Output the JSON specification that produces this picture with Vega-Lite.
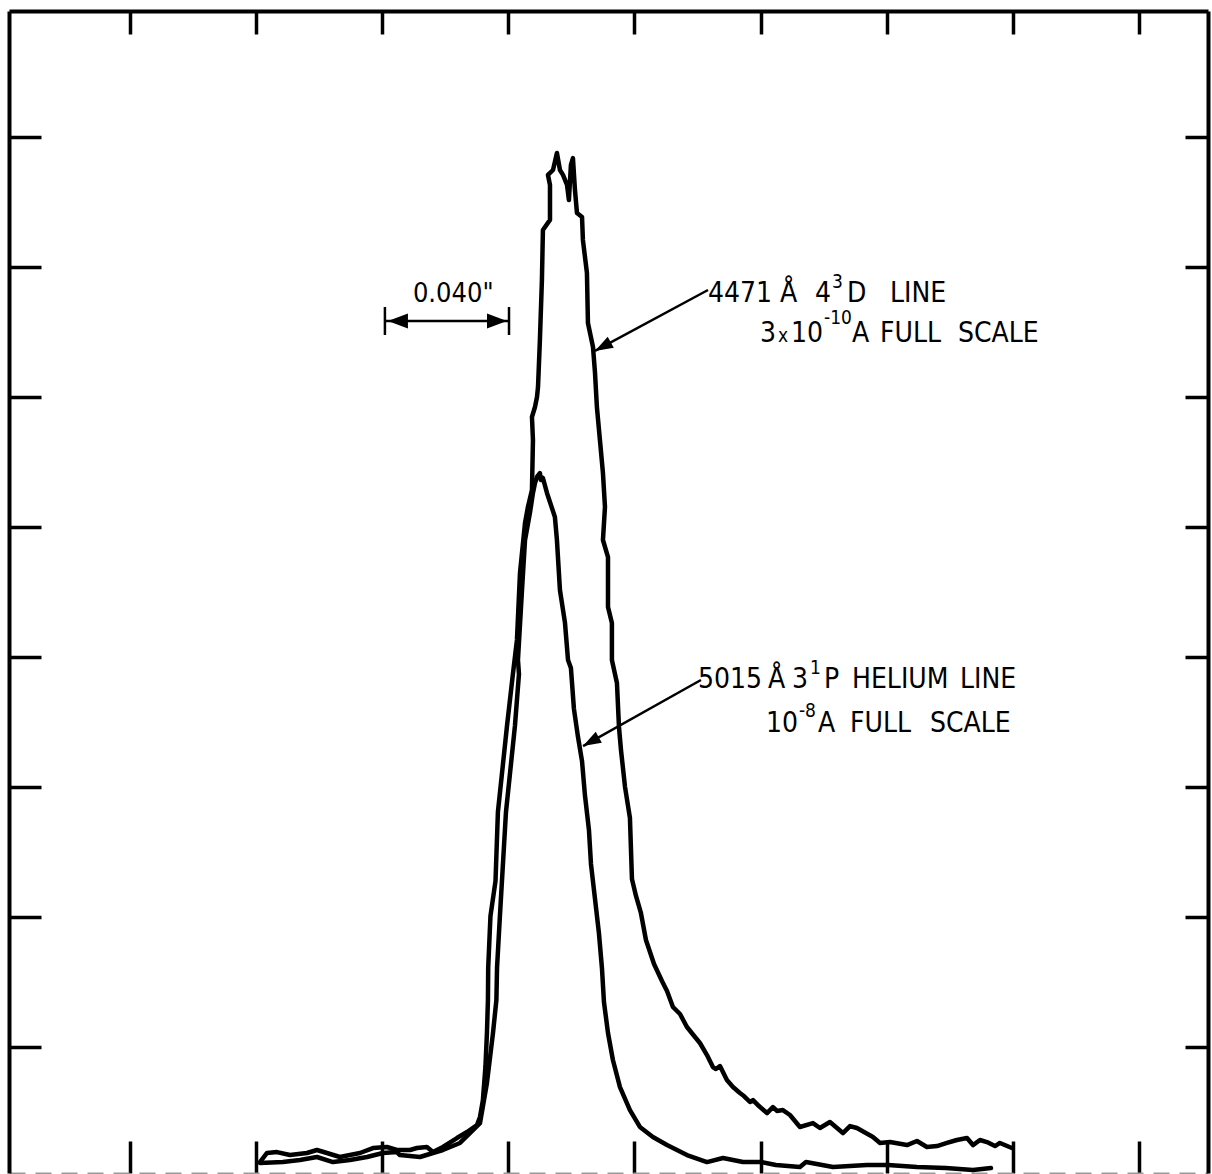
{
  "$schema": "https://vega.github.io/schema/vega-lite/v6.json",
  "width": 1199,
  "height": 1162,
  "autosize": {"type": "none"},
  "padding": {"left": 9, "top": 11, "right": 4, "bottom": 1},
  "background": "white",
  "config": {
    "view": {"stroke": null},
    "axis": {"labels": false, "title": null, "grid": false, "tickColor": "black", "tickWidth": 3.5, "domainColor": "black", "domainWidth": 4}
  },
  "resolve": {"axis": {"x": "independent", "y": "independent"}},
  "layer": [
    {
      "data": {"values": [
        {"s":"A","i":1,"x":2.030,"y":0.115},{"s":"A","i":2,"x":2.086,"y":0.185},{"s":"A","i":3,"x":2.165,"y":0.192},{"s":"A","i":4,"x":2.268,"y":0.169},{"s":"A","i":5,"x":2.403,"y":0.185},{"s":"A","i":6,"x":2.482,"y":0.208},{"s":"A","i":7,"x":2.561,"y":0.185},{"s":"A","i":8,"x":2.664,"y":0.154},{"s":"A","i":9,"x":2.823,"y":0.185},{"s":"A","i":10,"x":2.926,"y":0.223},
        {"s":"A","i":11,"x":3.037,"y":0.231},{"s":"A","i":12,"x":3.116,"y":0.208},{"s":"A","i":13,"x":3.220,"y":0.208},{"s":"A","i":14,"x":3.275,"y":0.223},{"s":"A","i":15,"x":3.354,"y":0.231},{"s":"A","i":16,"x":3.402,"y":0.192},{"s":"A","i":17,"x":3.481,"y":0.231},{"s":"A","i":18,"x":3.592,"y":0.300},{"s":"A","i":19,"x":3.672,"y":0.346},{"s":"A","i":20,"x":3.751,"y":0.400},
        {"s":"A","i":21,"x":3.775,"y":0.462},{"s":"A","i":22,"x":3.798,"y":0.592},{"s":"A","i":23,"x":3.818,"y":0.846},{"s":"A","i":24,"x":3.830,"y":1.108},{"s":"A","i":25,"x":3.838,"y":1.362},{"s":"A","i":26,"x":3.840,"y":1.608},{"s":"A","i":27,"x":3.858,"y":2.008},{"s":"A","i":28,"x":3.898,"y":2.277},{"s":"A","i":29,"x":3.917,"y":2.808},{"s":"A","i":30,"x":3.989,"y":3.469},
        {"s":"A","i":31,"x":4.036,"y":3.869},{"s":"A","i":32,"x":4.068,"y":4.131},{"s":"A","i":33,"x":4.092,"y":4.646},{"s":"A","i":34,"x":4.132,"y":5.031},{"s":"A","i":35,"x":4.155,"y":5.154},{"s":"A","i":36,"x":4.187,"y":5.285},{"s":"A","i":37,"x":4.195,"y":5.669},{"s":"A","i":38,"x":4.187,"y":5.846},{"s":"A","i":39,"x":4.211,"y":5.923},{"s":"A","i":40,"x":4.227,"y":6.000},
        {"s":"A","i":41,"x":4.235,"y":6.077},{"s":"A","i":42,"x":4.250,"y":6.438},{"s":"A","i":43,"x":4.266,"y":6.900},{"s":"A","i":44,"x":4.274,"y":7.285},{"s":"A","i":45,"x":4.330,"y":7.362},{"s":"A","i":46,"x":4.330,"y":7.631},{"s":"A","i":47,"x":4.314,"y":7.708},{"s":"A","i":48,"x":4.354,"y":7.746},{"s":"A","i":49,"x":4.385,"y":7.877},{"s":"A","i":50,"x":4.409,"y":7.746},
        {"s":"A","i":51,"x":4.433,"y":7.708},{"s":"A","i":52,"x":4.465,"y":7.631},{"s":"A","i":53,"x":4.480,"y":7.515},{"s":"A","i":54,"x":4.496,"y":7.785},{"s":"A","i":55,"x":4.512,"y":7.838},{"s":"A","i":56,"x":4.528,"y":7.592},{"s":"A","i":57,"x":4.544,"y":7.415},{"s":"A","i":58,"x":4.584,"y":7.385},{"s":"A","i":59,"x":4.591,"y":7.208},{"s":"A","i":60,"x":4.623,"y":6.954},
        {"s":"A","i":61,"x":4.631,"y":6.569},{"s":"A","i":62,"x":4.671,"y":6.385},{"s":"A","i":63,"x":4.687,"y":6.185},{"s":"A","i":64,"x":4.702,"y":5.923},{"s":"A","i":65,"x":4.726,"y":5.669},{"s":"A","i":66,"x":4.750,"y":5.415},{"s":"A","i":67,"x":4.766,"y":5.154},{"s":"A","i":68,"x":4.750,"y":4.900},{"s":"A","i":69,"x":4.790,"y":4.769},{"s":"A","i":70,"x":4.790,"y":4.385},
        {"s":"A","i":71,"x":4.821,"y":4.262},{"s":"A","i":72,"x":4.821,"y":3.977},{"s":"A","i":73,"x":4.861,"y":3.800},{"s":"A","i":74,"x":4.877,"y":3.462},{"s":"A","i":75,"x":4.893,"y":3.285},{"s":"A","i":76,"x":4.925,"y":3.000},{"s":"A","i":77,"x":4.964,"y":2.762},{"s":"A","i":78,"x":4.980,"y":2.292},{"s":"A","i":79,"x":5.012,"y":2.162},{"s":"A","i":80,"x":5.051,"y":2.031},
        {"s":"A","i":81,"x":5.091,"y":1.823},{"s":"A","i":82,"x":5.155,"y":1.638},{"s":"A","i":83,"x":5.218,"y":1.508},{"s":"A","i":84,"x":5.258,"y":1.431},{"s":"A","i":85,"x":5.305,"y":1.308},{"s":"A","i":86,"x":5.361,"y":1.254},{"s":"A","i":87,"x":5.416,"y":1.154},{"s":"A","i":88,"x":5.480,"y":1.077},{"s":"A","i":89,"x":5.519,"y":1.031},{"s":"A","i":90,"x":5.575,"y":0.938},
        {"s":"A","i":91,"x":5.622,"y":0.846},{"s":"A","i":92,"x":5.646,"y":0.831},{"s":"A","i":93,"x":5.678,"y":0.854},{"s":"A","i":94,"x":5.733,"y":0.746},{"s":"A","i":95,"x":5.781,"y":0.692},{"s":"A","i":96,"x":5.836,"y":0.646},{"s":"A","i":97,"x":5.868,"y":0.623},{"s":"A","i":98,"x":5.916,"y":0.577},{"s":"A","i":99,"x":5.940,"y":0.592},{"s":"A","i":100,"x":5.987,"y":0.546},
        {"s":"A","i":101,"x":6.051,"y":0.492},{"s":"A","i":102,"x":6.098,"y":0.538},{"s":"A","i":103,"x":6.130,"y":0.508},{"s":"A","i":104,"x":6.177,"y":0.515},{"s":"A","i":105,"x":6.233,"y":0.477},{"s":"A","i":106,"x":6.312,"y":0.385},{"s":"A","i":107,"x":6.415,"y":0.415},{"s":"A","i":108,"x":6.471,"y":0.377},{"s":"A","i":109,"x":6.550,"y":0.423},{"s":"A","i":110,"x":6.653,"y":0.338},
        {"s":"A","i":111,"x":6.709,"y":0.392},{"s":"A","i":112,"x":6.764,"y":0.377},{"s":"A","i":113,"x":6.891,"y":0.308},{"s":"A","i":114,"x":6.947,"y":0.262},{"s":"A","i":115,"x":7.026,"y":0.269},{"s":"A","i":116,"x":7.161,"y":0.246},{"s":"A","i":117,"x":7.240,"y":0.277},{"s":"A","i":118,"x":7.319,"y":0.231},{"s":"A","i":119,"x":7.399,"y":0.238},{"s":"A","i":120,"x":7.478,"y":0.262},
        {"s":"A","i":121,"x":7.557,"y":0.285},{"s":"A","i":122,"x":7.637,"y":0.300},{"s":"A","i":123,"x":7.684,"y":0.246},{"s":"A","i":124,"x":7.740,"y":0.285},{"s":"A","i":125,"x":7.795,"y":0.269},{"s":"A","i":126,"x":7.859,"y":0.238},{"s":"A","i":127,"x":7.898,"y":0.262},{"s":"A","i":128,"x":7.993,"y":0.223},
        {"s":"B","i":1,"x":2.030,"y":0.108},{"s":"B","i":2,"x":2.212,"y":0.115},{"s":"B","i":3,"x":2.347,"y":0.131},{"s":"B","i":4,"x":2.482,"y":0.154},{"s":"B","i":5,"x":2.609,"y":0.115},{"s":"B","i":6,"x":2.744,"y":0.131},{"s":"B","i":7,"x":2.879,"y":0.154},{"s":"B","i":8,"x":3.005,"y":0.185},{"s":"B","i":9,"x":3.116,"y":0.192},{"s":"B","i":10,"x":3.140,"y":0.169},
        {"s":"B","i":11,"x":3.299,"y":0.154},{"s":"B","i":12,"x":3.402,"y":0.185},{"s":"B","i":13,"x":3.481,"y":0.208},{"s":"B","i":14,"x":3.616,"y":0.262},{"s":"B","i":15,"x":3.695,"y":0.338},{"s":"B","i":16,"x":3.775,"y":0.415},{"s":"B","i":17,"x":3.830,"y":0.723},{"s":"B","i":18,"x":3.878,"y":1.108},{"s":"B","i":19,"x":3.905,"y":1.362},{"s":"B","i":20,"x":3.910,"y":1.608},
        {"s":"B","i":21,"x":3.933,"y":2.008},{"s":"B","i":22,"x":3.981,"y":2.808},{"s":"B","i":23,"x":4.052,"y":3.469},{"s":"B","i":24,"x":4.084,"y":3.869},{"s":"B","i":25,"x":4.076,"y":3.977},{"s":"B","i":26,"x":4.108,"y":4.515},{"s":"B","i":27,"x":4.132,"y":4.900},{"s":"B","i":28,"x":4.171,"y":5.108},{"s":"B","i":29,"x":4.195,"y":5.262},{"s":"B","i":30,"x":4.211,"y":5.338},
        {"s":"B","i":31,"x":4.227,"y":5.385},{"s":"B","i":32,"x":4.250,"y":5.415},{"s":"B","i":33,"x":4.258,"y":5.362},{"s":"B","i":34,"x":4.274,"y":5.377},{"s":"B","i":35,"x":4.306,"y":5.262},{"s":"B","i":36,"x":4.369,"y":5.077},{"s":"B","i":37,"x":4.385,"y":4.900},{"s":"B","i":38,"x":4.409,"y":4.515},{"s":"B","i":39,"x":4.449,"y":4.262},{"s":"B","i":40,"x":4.473,"y":3.977},
        {"s":"B","i":41,"x":4.496,"y":3.915},{"s":"B","i":42,"x":4.520,"y":3.600},{"s":"B","i":43,"x":4.552,"y":3.385},{"s":"B","i":44,"x":4.584,"y":3.200},{"s":"B","i":45,"x":4.607,"y":2.938},{"s":"B","i":46,"x":4.639,"y":2.669},{"s":"B","i":47,"x":4.655,"y":2.408},{"s":"B","i":48,"x":4.687,"y":2.138},{"s":"B","i":49,"x":4.718,"y":1.877},{"s":"B","i":50,"x":4.742,"y":1.608},
        {"s":"B","i":51,"x":4.758,"y":1.346},{"s":"B","i":52,"x":4.790,"y":1.108},{"s":"B","i":53,"x":4.829,"y":0.900},{"s":"B","i":54,"x":4.885,"y":0.692},{"s":"B","i":55,"x":4.964,"y":0.515},{"s":"B","i":56,"x":5.043,"y":0.385},{"s":"B","i":57,"x":5.146,"y":0.308},{"s":"B","i":58,"x":5.258,"y":0.246},{"s":"B","i":59,"x":5.416,"y":0.169},{"s":"B","i":60,"x":5.575,"y":0.115},
        {"s":"B","i":61,"x":5.702,"y":0.146},{"s":"B","i":62,"x":5.860,"y":0.115},{"s":"B","i":63,"x":6.011,"y":0.115},{"s":"B","i":64,"x":6.122,"y":0.092},{"s":"B","i":65,"x":6.312,"y":0.077},{"s":"B","i":66,"x":6.360,"y":0.115},{"s":"B","i":67,"x":6.574,"y":0.077},{"s":"B","i":68,"x":6.843,"y":0.092},{"s":"B","i":69,"x":7.010,"y":0.092},{"s":"B","i":70,"x":7.240,"y":0.077},
        {"s":"B","i":71,"x":7.470,"y":0.069},{"s":"B","i":72,"x":7.684,"y":0.054},{"s":"B","i":73,"x":7.827,"y":0.069}
      ]},
      "mark": {"type": "line", "stroke": "black", "strokeWidth": 4.5, "strokeJoin": "round", "strokeCap": "round"},
      "encoding": {
        "x": {"field": "x", "type": "quantitative", "scale": {"domain": [0.04, 9.548], "nice": false, "zero": false},
              "axis": {"orient": "bottom", "values": [1,2,3,4,5,6,7,8,9], "tickSize": -32, "domainColor": "#9a9a9a", "domainDash": [16, 10], "domainWidth": 2}},
        "y": {"field": "y", "type": "quantitative", "scale": {"domain": [0.031, 8.969], "nice": false, "zero": false},
              "axis": {"orient": "left", "values": [1,2,3,4,5,6,7,8], "tickSize": -32}},
        "detail": {"field": "s"},
        "order": {"field": "i", "type": "quantitative"}
      }
    },
    {
      "data": {"values": [
        {"x": 5.583, "y": 6.823, "x2": 4.687, "y2": 6.354},
        {"x": 5.527, "y": 3.823, "x2": 4.592, "y2": 3.315},
        {"x": 3.029, "y": 6.585, "x2": 3.997, "y2": 6.585},
        {"x": 3.021, "y": 6.692, "x2": 3.021, "y2": 6.477},
        {"x": 4.005, "y": 6.692, "x2": 4.005, "y2": 6.477}
      ]},
      "mark": {"type": "rule", "stroke": "black", "strokeWidth": 2.5},
      "encoding": {
        "x": {"field": "x", "type": "quantitative", "scale": {"domain": [0.04, 9.548], "nice": false, "zero": false},
              "axis": {"orient": "top", "values": [1,2,3,4,5,6,7,8,9], "tickSize": -23}},
        "y": {"field": "y", "type": "quantitative", "scale": {"domain": [0.031, 8.969], "nice": false, "zero": false},
              "axis": {"orient": "right", "values": [1,2,3,4,5,6,7,8], "tickSize": -23}},
        "x2": {"field": "x2"},
        "y2": {"field": "y2"}
      }
    },
    {
      "data": {"values": [{"x": 4.687, "y": 6.354}, {"x": 4.592, "y": 3.315}]},
      "mark": {"type": "point", "shape": "M0,0 L-2,-0.7 L-2,0.7 Z", "size": 324, "angle": 151, "filled": true, "fill": "black", "opacity": 1, "strokeWidth": 0},
      "encoding": {
        "x": {"field": "x", "type": "quantitative", "scale": {"domain": [0.04, 9.548], "nice": false, "zero": false}, "axis": null},
        "y": {"field": "y", "type": "quantitative", "scale": {"domain": [0.031, 8.969], "nice": false, "zero": false}, "axis": null}
      }
    },
    {
      "data": {"values": [{"x": 3.045, "y": 6.585}]},
      "mark": {"type": "point", "shape": "M0,0 L2,-0.75 L2,0.75 Z", "size": 400, "filled": true, "fill": "black", "opacity": 1, "strokeWidth": 0},
      "encoding": {
        "x": {"field": "x", "type": "quantitative", "scale": {"domain": [0.04, 9.548], "nice": false, "zero": false}, "axis": null},
        "y": {"field": "y", "type": "quantitative", "scale": {"domain": [0.031, 8.969], "nice": false, "zero": false}, "axis": null}
      }
    },
    {
      "data": {"values": [{"x": 3.989, "y": 6.585}]},
      "mark": {"type": "point", "shape": "M0,0 L-2,-0.75 L-2,0.75 Z", "size": 400, "filled": true, "fill": "black", "opacity": 1, "strokeWidth": 0},
      "encoding": {
        "x": {"field": "x", "type": "quantitative", "scale": {"domain": [0.04, 9.548], "nice": false, "zero": false}, "axis": null},
        "y": {"field": "y", "type": "quantitative", "scale": {"domain": [0.031, 8.969], "nice": false, "zero": false}, "axis": null}
      }
    },
    {
      "data": {"values": [
        {"x": 5.583, "y": 6.731, "t": "4471"},
        {"x": 6.154, "y": 6.731, "t": "Å"},
        {"x": 6.431, "y": 6.731, "t": "4"},
        {"x": 6.685, "y": 6.731, "t": "D"},
        {"x": 7.026, "y": 6.731, "t": "LINE"},
        {"x": 5.995, "y": 6.423, "t": "3"},
        {"x": 6.241, "y": 6.423, "t": "10"},
        {"x": 6.725, "y": 6.423, "t": "A"},
        {"x": 6.947, "y": 6.423, "t": "FULL"},
        {"x": 7.565, "y": 6.423, "t": "SCALE"},
        {"x": 5.504, "y": 3.762, "t": "5015"},
        {"x": 6.059, "y": 3.762, "t": "Å"},
        {"x": 6.249, "y": 3.762, "t": "3"},
        {"x": 6.503, "y": 3.762, "t": "P"},
        {"x": 6.725, "y": 3.762, "t": "HELIUM"},
        {"x": 7.581, "y": 3.762, "t": "LINE"},
        {"x": 6.043, "y": 3.423, "t": "10"},
        {"x": 6.455, "y": 3.423, "t": "A"},
        {"x": 6.709, "y": 3.423, "t": "FULL"},
        {"x": 7.343, "y": 3.423, "t": "SCALE"}
      ]},
      "mark": {"type": "text", "align": "left", "baseline": "alphabetic", "font": "DejaVu Sans Condensed, DejaVu Sans, sans-serif", "fontSize": 28, "color": "black"},
      "encoding": {
        "x": {"field": "x", "type": "quantitative", "scale": {"domain": [0.04, 9.548], "nice": false, "zero": false}, "axis": null},
        "y": {"field": "y", "type": "quantitative", "scale": {"domain": [0.031, 8.969], "nice": false, "zero": false}, "axis": null},
        "text": {"field": "t"}
      }
    },
    {
      "data": {"values": [
        {"x": 6.566, "y": 6.838, "t": "3"},
        {"x": 6.138, "y": 6.423, "t": "x"},
        {"x": 6.503, "y": 6.562, "t": "-10"},
        {"x": 6.392, "y": 3.869, "t": "1"},
        {"x": 6.304, "y": 3.538, "t": "-8"}
      ]},
      "mark": {"type": "text", "align": "left", "baseline": "alphabetic", "font": "DejaVu Sans Condensed, DejaVu Sans, sans-serif", "fontSize": 19, "color": "black"},
      "encoding": {
        "x": {"field": "x", "type": "quantitative", "scale": {"domain": [0.04, 9.548], "nice": false, "zero": false}, "axis": null},
        "y": {"field": "y", "type": "quantitative", "scale": {"domain": [0.031, 8.969], "nice": false, "zero": false}, "axis": null},
        "text": {"field": "t"}
      }
    },
    {
      "data": {"values": [{"x": 3.243, "y": 6.731, "t": "0.040\""}]},
      "mark": {"type": "text", "align": "left", "baseline": "alphabetic", "font": "DejaVu Sans Condensed, DejaVu Sans, sans-serif", "fontSize": 27, "color": "black"},
      "encoding": {
        "x": {"field": "x", "type": "quantitative", "scale": {"domain": [0.04, 9.548], "nice": false, "zero": false}, "axis": null},
        "y": {"field": "y", "type": "quantitative", "scale": {"domain": [0.031, 8.969], "nice": false, "zero": false}, "axis": null},
        "text": {"field": "t"}
      }
    }
  ]
}
